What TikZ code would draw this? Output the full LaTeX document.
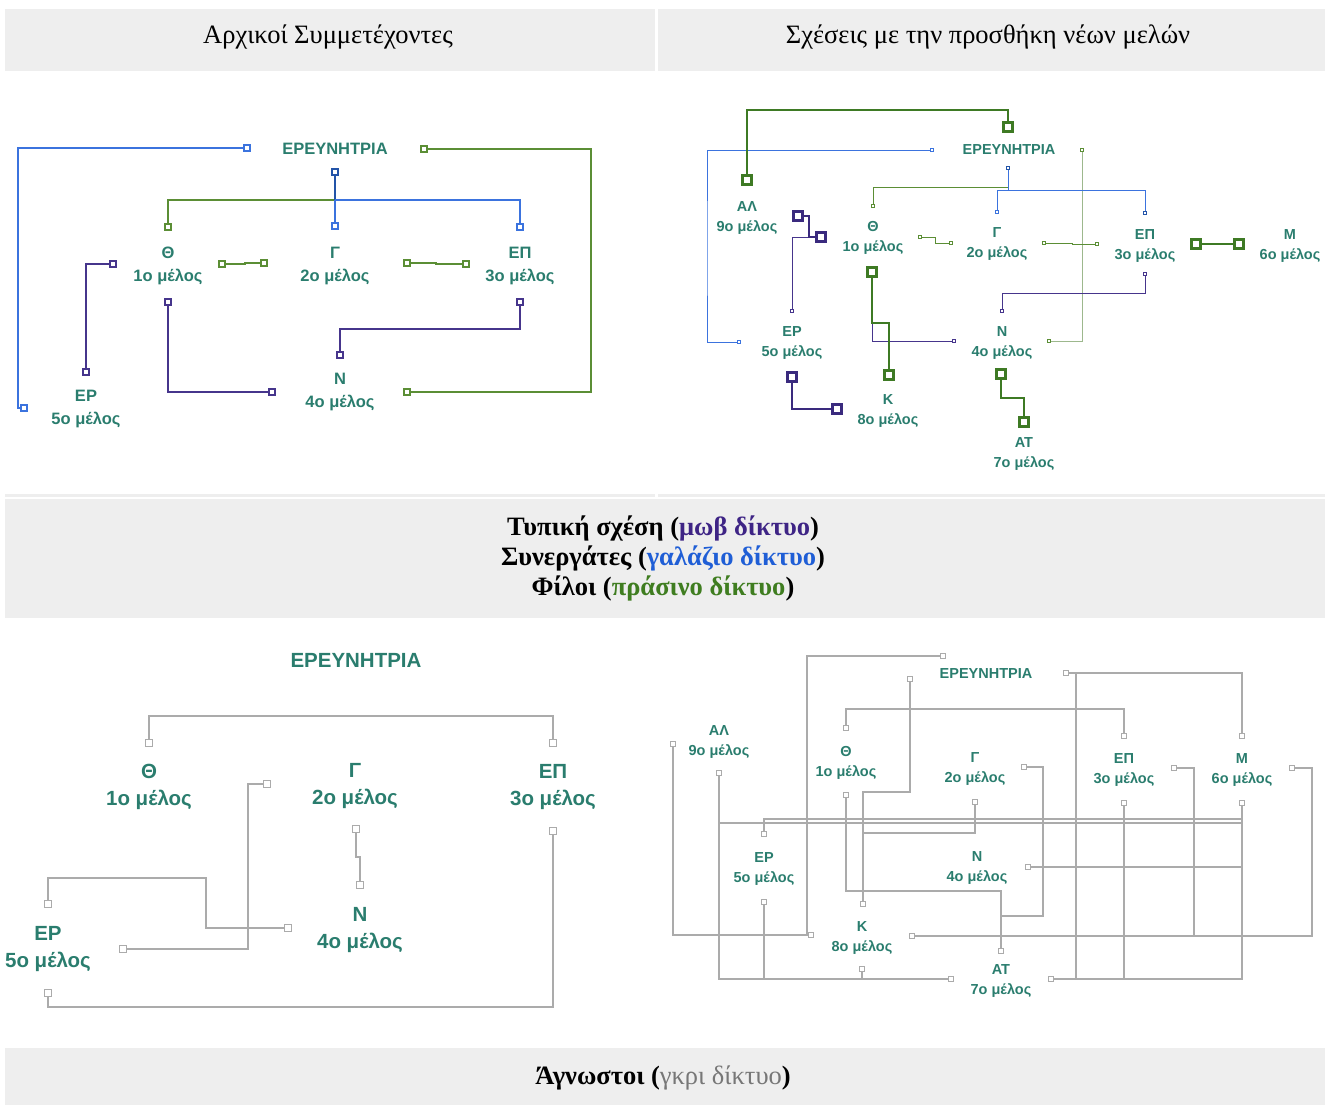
\documentclass[tikz,border=0pt]{standalone}
\usepackage{fontspec}
\setmainfont{Liberation Serif}
\newfontfamily\lblfont{Liberation Sans}
\definecolor{barbg}{HTML}{EEEEEE}
\definecolor{lbltxt}{HTML}{2A7D6E}
\definecolor{mauve}{HTML}{46358C}
\definecolor{mauvedk}{HTML}{3A2A7E}
\definecolor{azure}{HTML}{3B73DE}
\definecolor{azuredk}{HTML}{2354A8}
\definecolor{grassy}{HTML}{5B8E35}
\definecolor{grassydk}{HTML}{3E7A24}
\definecolor{grassylt}{HTML}{9DB88D}
\definecolor{linegray}{HTML}{ABABAB}
\definecolor{legmauve}{HTML}{3E2485}
\definecolor{legazure}{HTML}{1F5ED6}
\definecolor{leggreen}{HTML}{3F7D20}
\definecolor{leggray}{HTML}{777777}
\tikzset{
  bar/.style={fill=barbg,draw=none},
  headtxt/.style={font=\fontsize{26.5}{30}\selectfont,inner sep=0pt},
  legtxt/.style={font=\bfseries\fontsize{26.5}{30}\selectfont,align=center,inner sep=0pt},
  lblA/.style={font={\lblfont\bfseries\fontsize{16.5}{23}\selectfont},text=lbltxt,align=center,inner sep=0pt},
  lblB/.style={font={\lblfont\bfseries\fontsize{14.5}{20}\selectfont},text=lbltxt,align=center,inner sep=0pt},
  lblC/.style={font={\lblfont\bfseries\fontsize{20.5}{27}\selectfont},text=lbltxt,align=center,inner sep=0pt},
  sq/.style={draw,fill=white,inner sep=0pt,minimum size=6.5pt,line width=1.6pt},
  sqthin/.style={draw,fill=white,inner sep=0pt,minimum size=3.5pt,line width=0.8pt},
  sqthick/.style={draw,fill=white,inner sep=0pt,minimum size=9pt,line width=2.6pt},
  sqgray/.style={draw=linegray,fill=white,inner sep=0pt,minimum size=6.5pt,line width=1.4pt},
  ln/.style={line width=1.8pt},
  lnthin/.style={line width=0.9pt},
  lnthick/.style={line width=2.8pt},
  lngray/.style={draw=linegray,line width=1.6pt},
}
\begin{document}
\begin{tikzpicture}[x=1pt,y=-1pt]
\useasboundingbox (0,0) rectangle (1334,1105);
%
% bars and headings
\fill[bar] (5,9) rectangle (655,71);
\fill[bar] (658,9) rectangle (1325,71);
\fill[bar] (5,494) rectangle (655,497);
\fill[bar] (658,494) rectangle (1325,497);
\fill[bar] (5,499) rectangle (1325,618);
\fill[bar] (5,1048) rectangle (1325,1105);
\node[headtxt] (headL) at (328,37) {Αρχικοί Συμμετέχοντες};
\node[headtxt] (headR) at (988,37) {Σχέσεις με την προσθήκη νέων μελών};
\node[legtxt] (legend) at (663,558) {Τυπική σχέση (\textcolor{legmauve}{μωβ δίκτυο})\\
  Συνεργάτες (\textcolor{legazure}{γαλάζιο δίκτυο})\\
  Φίλοι (\textcolor{leggreen}{πράσινο δίκτυο})};
\node[legtxt] (legend2) at (663,1078) {Άγνωστοι (\textcolor{leggray}{\mdseries γκρι δίκτυο})};
%
% initial members
\node[lblA] (aR) at (335,149) {ΕΡΕΥΝΗΤΡΙΑ};
\node[lblA] (aTh) at (168,266) {Θ\\1ο μέλος};
\node[lblA] (aG) at (335,266) {Γ\\2ο μέλος};
\node[lblA] (aEP) at (520,266) {ΕΠ\\3ο μέλος};
\node[lblA] (aN) at (340,392) {Ν\\4ο μέλος};
\node[lblA] (aER) at (86,409) {ΕΡ\\5ο μέλος};
%
\node[sq,draw=azure] (aR1) at (247,148) {};
\node[sq,draw=azuredk] (aR2) at (335,172) {};
\node[sq,draw=grassy] (aR3) at (424,149) {};
\node[sq,draw=grassy] (aTh1) at (168,227) {};
\node[sq,draw=azure] (aG1) at (335,226) {};
\node[sq,draw=azure] (aEP1) at (520,227) {};
\node[sq,draw=mauve] (aTh2) at (113,264) {};
\node[sq,draw=grassy] (aTh3) at (222,264) {};
\node[sq,draw=grassy] (aG2) at (264,263) {};
\node[sq,draw=grassy] (aG3) at (407,263) {};
\node[sq,draw=grassy] (aEP2) at (466,264) {};
\node[sq,draw=mauve] (aTh4) at (168,302) {};
\node[sq,draw=mauve] (aEP3) at (520,302) {};
\node[sq,draw=mauve] (aN1) at (340,355) {};
\node[sq,draw=mauve] (aN2) at (272,392) {};
\node[sq,draw=grassy] (aN3) at (407,392) {};
\node[sq,draw=mauve] (aER1) at (86,372) {};
\node[sq,draw=azure] (aER2) at (24,408) {};
%
\draw[ln,azure] (aR1) -| (18,300) |- (aER2);
\draw[ln,grassy] (aTh1) |- (335,200);
\draw[ln,azure] (aR2) -- (aG1);
\draw[ln,azuredk] (aR2) -- (335,200);
\draw[ln,azure] (335,200) -| (aEP1);
\draw[ln,grassy] (aR3) -| (591,300) |- (aN3);
\draw[ln,grassy] (aTh3) -- (aTh3 -| 245,0) |- (aG2);
\draw[ln,grassy] (aG3) -- (aG3 -| 436,0) |- (aEP2);
\draw[ln,mauve] (aTh2) -| (aER1);
\draw[ln,mauve] (aTh4) |- (aN2);
\draw[ln,mauve] (aEP3) -- (aEP3 |- 0,329) -| (aN1);
%
% with the new members
\node[lblB] (bR) at (1009,150) {ΕΡΕΥΝΗΤΡΙΑ};
\node[lblB] (bAL) at (747,218) {ΑΛ\\9ο μέλος};
\node[lblB] (bTh) at (873,238) {Θ\\1ο μέλος};
\node[lblB] (bG) at (997,244) {Γ\\2ο μέλος};
\node[lblB] (bEP) at (1145,246) {ΕΠ\\3ο μέλος};
\node[lblB] (bM) at (1290,246) {Μ\\6ο μέλος};
\node[lblB] (bER) at (792,343) {ΕΡ\\5ο μέλος};
\node[lblB] (bN) at (1002,343) {Ν\\4ο μέλος};
\node[lblB] (bK) at (888,411) {Κ\\8ο μέλος};
\node[lblB] (bAT) at (1024,454) {ΑΤ\\7ο μέλος};
%
\node[sqthick,draw=grassydk] (bR1) at (1008,127) {};
\node[sqthick,draw=grassydk] (bAL1) at (747,180) {};
\node[sqthick,draw=mauvedk] (bAL2) at (798,216) {};
\node[sqthick,draw=mauvedk] (bAL3) at (821,237) {};
\node[sqthick,draw=grassydk] (bTh1) at (872,272) {};
\node[sqthick,draw=grassydk] (bK1) at (889,375) {};
\node[sqthick,draw=mauvedk] (bER2) at (792,377) {};
\node[sqthick,draw=mauvedk] (bK2) at (837,409) {};
\node[sqthick,draw=grassydk] (bN2) at (1001,374) {};
\node[sqthick,draw=grassydk] (bAT1) at (1024,422) {};
\node[sqthick,draw=grassydk] (bEP3) at (1196,244) {};
\node[sqthick,draw=grassydk] (bM1) at (1239,244) {};
\node[sqthin,draw=azure] (bR2) at (932,150) {};
\node[sqthin,draw=azuredk] (bR3) at (1008,168) {};
\node[sqthin,draw=grassy] (bR4) at (1082,150) {};
\node[sqthin,draw=grassy] (bTh2) at (873,206) {};
\node[sqthin,draw=azure] (bG1) at (997,212) {};
\node[sqthin,draw=azuredk] (bEP1) at (1145,213) {};
\node[sqthin,draw=grassy] (bTh3) at (920,237) {};
\node[sqthin,draw=grassy] (bG2) at (951,243) {};
\node[sqthin,draw=grassy] (bG3) at (1044,243) {};
\node[sqthin,draw=grassy] (bEP2) at (1097,244) {};
\node[sqthin,draw=mauve] (bEP4) at (1145,274) {};
\node[sqthin,draw=mauve] (bN1) at (1002,311) {};
\node[sqthin,draw=mauve] (bER1) at (792,311) {};
\node[sqthin,draw=azure] (bER3) at (739,342) {};
\node[sqthin,draw=mauve] (bN3) at (954,341) {};
\node[sqthin,draw=grassy] (bN4) at (1049,341) {};
%
\draw[lnthin,azure] (bR2) -| (707,250) |- (bER3);
\draw[lnthin,grassylt] (bR4) |- (bN4);
\draw[lnthin,grassy] (bTh2) |- (1008,187);
\draw[lnthin,azure] (bR3) -- (1008,190) -| (bEP1);
\draw[lnthin,azure] (1008,190) -| (bG1);
\draw[lnthin,grassy] (bTh3) -- (bTh3 -| 935,0) |- (bG2);
\draw[lnthin,grassy] (bG3) -- (bG3 -| 1072,0) |- (bEP2);
\draw[lnthin,mauve] (bEP4) -- (bEP4 |- 0,293) -| (bN1);
\draw[lnthin,mauve] (bTh1) |- (bN3);
\draw[lnthin,mauve] (bER1) |- (bAL3);
\draw[lnthick,grassydk] (bR1) -- (bR1 |- 0,110) -| (bAL1);
\draw[lnthick,grassydk] (bEP3) -- (bM1);
\draw[lnthick,grassydk] (bTh1) -- (bTh1 |- 0,323) -| (bK1);
\draw[lnthick,mauvedk] (bAL2) -- (bAL2 -| 809,0) |- (bAL3);
\draw[lnthick,mauvedk] (bER2) |- (bK2);
\draw[lnthick,grassydk] (bN2) -- (bN2 |- 0,398) -| (bAT1);
%
% strangers, initial members
\node[lblC] (cR) at (356,660) {ΕΡΕΥΝΗΤΡΙΑ};
\node[lblC] (cTh) at (149,787) {Θ\\1ο μέλος};
\node[lblC] (cG) at (355,786) {Γ\\2ο μέλος};
\node[lblC] (cEP) at (553,787) {ΕΠ\\3ο μέλος};
\node[lblC] (cN) at (360,930) {Ν\\4ο μέλος};
\node[lblC] (cER) at (48,949) {ΕΡ\\5ο μέλος};
%
\node[sqgray] (cTh1) at (149,743) {};
\node[sqgray] (cEP1) at (553,743) {};
\node[sqgray] (cG1) at (267,784) {};
\node[sqgray] (cG2) at (356,829) {};
\node[sqgray] (cN1) at (360,885) {};
\node[sqgray] (cEP2) at (553,831) {};
\node[sqgray] (cER1) at (48,904) {};
\node[sqgray] (cN2) at (288,928) {};
\node[sqgray] (cER2) at (123,949) {};
\node[sqgray] (cER3) at (48,993) {};
%
\draw[lngray] (cTh1) -- (cTh1 |- 0,716) -| (cEP1);
\draw[lngray] (cG2) -- (cG2 |- 0,857) -| (cN1);
\draw[lngray] (cER1) -- (cER1 |- 0,878) -| (206,900) |- (cN2);
\draw[lngray] (cER2) -| (248,850) |- (cG1);
\draw[lngray] (cER3) -- (cER3 |- 0,1007) -| (cEP2);
%
% strangers, with the new members
\node[lblB] (dR) at (986,674) {ΕΡΕΥΝΗΤΡΙΑ};
\node[lblB] (dAL) at (719,742) {ΑΛ\\9ο μέλος};
\node[lblB] (dTh) at (846,763) {Θ\\1ο μέλος};
\node[lblB] (dG) at (975,769) {Γ\\2ο μέλος};
\node[lblB] (dEP) at (1124,770) {ΕΠ\\3ο μέλος};
\node[lblB] (dM) at (1242,770) {Μ\\6ο μέλος};
\node[lblB] (dER) at (764,869) {ΕΡ\\5ο μέλος};
\node[lblB] (dN) at (977,868) {Ν\\4ο μέλος};
\node[lblB] (dK) at (862,938) {Κ\\8ο μέλος};
\node[lblB] (dAT) at (1001,981) {ΑΤ\\7ο μέλος};
%
\tikzset{sqgray/.append style={minimum size=5.5pt,line width=1.2pt}}
\node[sqgray] (dR1) at (943,656) {};
\node[sqgray] (dR2) at (910,679) {};
\node[sqgray] (dR3) at (1066,673) {};
\node[sqgray] (dTh1) at (846,728) {};
\node[sqgray] (dEP1) at (1124,736) {};
\node[sqgray] (dM1) at (1242,736) {};
\node[sqgray] (dAL1) at (673,744) {};
\node[sqgray] (dAL2) at (719,773) {};
\node[sqgray] (dTh2) at (846,795) {};
\node[sqgray] (dG1) at (975,802) {};
\node[sqgray] (dG2) at (1024,767) {};
\node[sqgray] (dEP2) at (1124,803) {};
\node[sqgray] (dEP3) at (1174,768) {};
\node[sqgray] (dM2) at (1242,803) {};
\node[sqgray] (dM3) at (1292,768) {};
\node[sqgray] (dER1) at (764,834) {};
\node[sqgray] (dN1) at (1028,867) {};
\node[sqgray] (dER2) at (764,902) {};
\node[sqgray] (dK1) at (863,904) {};
\node[sqgray] (dK2) at (811,935) {};
\node[sqgray] (dK3) at (912,936) {};
\node[sqgray] (dAT1) at (1001,951) {};
\node[sqgray] (dK4) at (862,969) {};
\node[sqgray] (dAT2) at (951,979) {};
\node[sqgray] (dAT3) at (1051,979) {};
%
\tikzset{lngray/.append style={line width=1.3pt}}
\draw[lngray] (dR1) -| (807,800) |- (dK2);
\draw[lngray] (dR2) -- (dR2 |- 0,792) -| (dK1);
\draw[lngray] (dR3) -| (dM1);
\draw[lngray] (dR3) -- (dR3 -| 1076,0) |- (dAT3);
\draw[lngray] (dTh1) -- (dTh1 |- 0,709) -| (dEP1);
\draw[lngray] (dAL1) |- (dK2);
\draw[lngray] (dAL2) |- (dAT2);
\draw[lngray] (dAL2) |- (dM2 |- 0,823) -- (dM2);
\draw[lngray] (dER1) -- (dER1 |- 0,819) -| (dM2);
\draw[lngray] (dTh2) -- (dTh2 |- 0,891) -| (dAT1);
\draw[lngray] (dG1) -- (dG1 |- 0,833) -| (dK1);
\draw[lngray] (dG2) -| (1043,900) |- (1001,916) -- (dAT1);
\draw[lngray] (dEP2) |- (dAT3);
\draw[lngray] (dEP3) -| (1194,900) |- (dK3);
\draw[lngray] (dM2) |- (dAT3);
\draw[lngray] (dN1) -| (dM2);
\draw[lngray] (dM3) -| (1312,900) |- (dK3);
\draw[lngray] (dER2) |- (dAT2);
\draw[lngray] (dK4) |- (dAT2);
\end{tikzpicture}
\end{document}
